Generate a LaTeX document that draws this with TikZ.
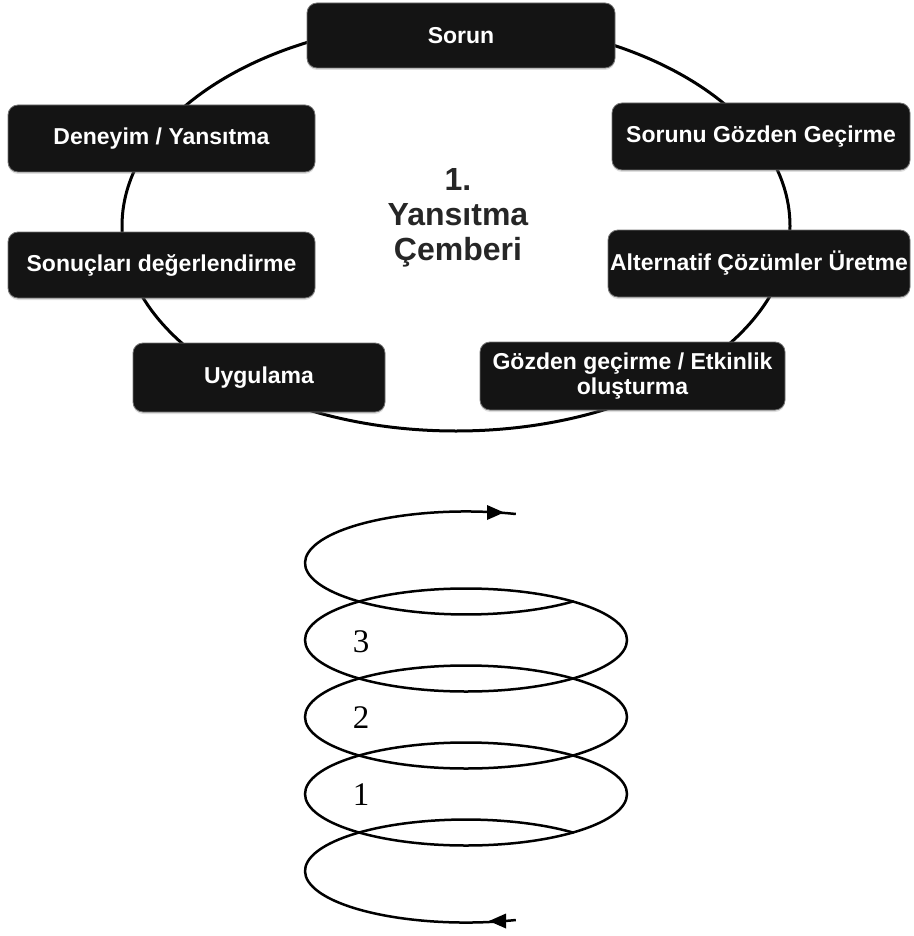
\documentclass[tikz,border=0pt]{standalone}
\usepackage{fontspec}
\setmainfont{Liberation Sans}
\newfontfamily\numfont{Liberation Serif}
\usetikzlibrary{shadows}
\begin{document}
\begin{tikzpicture}[x=1pt,y=-1pt,
  stage/.style={draw=black!55, line width=0.8pt, fill=black!92, rounded corners=10pt,
    text=white, font=\bfseries\fontsize{23}{25}\selectfont, align=center, inner sep=0pt,
    drop shadow={opacity=0.25, shadow xshift=0pt, shadow yshift=-2pt}},
  ring/.style={line width=2.5pt},
  titletext/.style={anchor=base, text=black!85, font=\bfseries\fontsize{32}{35}\selectfont},
  numtext/.style={font=\numfont\fontsize{33}{33}\selectfont}
]
\useasboundingbox (0,0) rectangle (913,936);
% big cycle
\draw[line width=3pt] (456,226) ellipse [x radius=334, y radius=205];
% boxes
\node[stage, minimum width=308pt, minimum height=65pt] (sorun) at (461,35.5) {Sorun};
\node[stage, minimum width=307pt, minimum height=67pt] (deneyim) at (161.5,138.5) {Deneyim / Yansıtma};
\node[stage, minimum width=307pt, minimum height=66pt] (sonuc) at (161.5,265) {Sonuçları değerlendirme};
\node[stage, minimum width=298pt, minimum height=67pt] (gozden) at (761,136.5) {Sorunu Gözden Geçirme};
\node[stage, minimum width=302pt, minimum height=67pt] (alternatif) at (759,263.5) {Alternatif Çözümler Üretme};
\node[stage, minimum width=252pt, minimum height=69pt] (uygulama) at (259,377.5) {Uygulama};
\node[stage, minimum width=305pt, minimum height=68pt] (etkinlik) at (632.5,376) {Gözden geçirme / Etkinlik\\oluşturma};
% centre title
\node[titletext] (t1) at (458,190) {1.};
\node[titletext] (t2) at (458,225) {Yansıtma};
\node[titletext] (t3) at (458,260) {Çemberi};
% spiral
\draw[ring] (515.8,514) arc [start angle=288, end angle=48, x radius=161, y radius=51.5];
\draw[ring] (466,640) ellipse [x radius=161, y radius=51.5];
\draw[ring] (466,717) ellipse [x radius=161, y radius=51.5];
\draw[ring] (466,794) ellipse [x radius=161, y radius=51.5];
\draw[ring] (515.8,920) arc [start angle=72, end angle=312, x radius=161, y radius=51.5];
% arrow heads
\fill (504,512.5) -- (487,505) -- (487,520) -- cycle;
\fill (489,921) -- (506,913.5) -- (506,928.5) -- cycle;
% numbers
\node[numtext] (n3) at (361,642) {3};
\node[numtext] (n2) at (361,718) {2};
\node[numtext] (n1) at (361,795) {1};
\end{tikzpicture}
\end{document}
